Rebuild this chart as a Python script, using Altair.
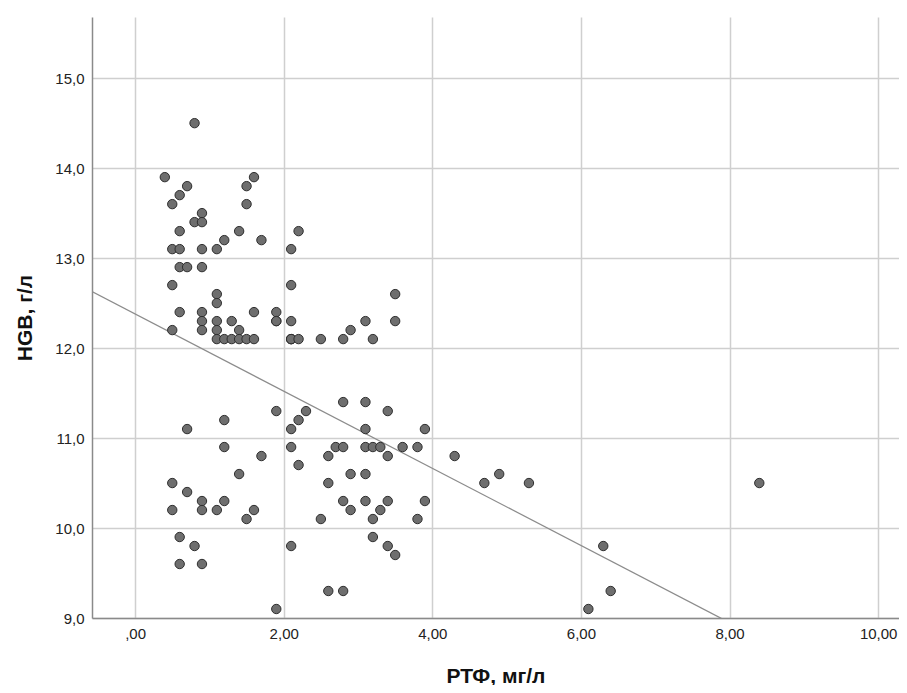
import altair as alt
import pandas as pd

# RTF (mg/l) and HGB (g/l) values
rtf = [
    0.8, 0.4, 0.7, 0.6, 0.5, 1.6, 1.5, 1.5, 0.9, 0.8, 0.9, 0.6, 1.4, 1.2, 1.7,
    0.5, 0.6, 0.9, 1.1, 2.1, 0.6, 0.7, 0.9, 0.5, 2.1, 1.1, 1.1, 0.6, 0.9, 1.6,
    1.9, 0.9, 1.1, 1.3, 1.9, 2.1, 0.5, 0.9, 1.1, 1.4, 1.1, 1.2, 1.3, 1.4, 1.5,
    1.6, 2.1,
    1.9, 1.2, 0.7, 2.1, 1.2, 2.1, 1.7, 1.4, 0.5, 0.7, 0.9, 1.2, 0.5, 0.9, 1.1,
    1.6, 1.5, 0.6, 0.8, 0.6, 0.9, 2.1, 1.9,
    2.2, 2.1, 1.9, 2.1, 2.2, 2.5, 2.8, 2.9, 3.1, 3.2, 3.5, 3.5,
    2.3, 2.2, 2.8, 3.1, 3.4, 3.1, 3.9, 2.7, 2.8, 3.1, 3.2, 3.3, 3.6, 3.8, 2.6,
    3.4, 4.3, 2.2, 2.9, 3.1, 2.6, 2.8, 3.1, 3.4, 3.9, 2.9, 3.3, 2.5, 3.2, 3.8,
    3.2, 3.4, 3.5, 2.6, 2.8,
    4.7, 4.9, 5.3, 6.3, 6.4, 6.1, 8.4,
]
hgb = [
    14.5, 13.9, 13.8, 13.7, 13.6, 13.9, 13.8, 13.6, 13.5, 13.4, 13.4, 13.3, 13.3, 13.2, 13.2,
    13.1, 13.1, 13.1, 13.1, 13.1, 12.9, 12.9, 12.9, 12.7, 12.7, 12.6, 12.5, 12.4, 12.4, 12.4,
    12.4, 12.3, 12.3, 12.3, 12.3, 12.3, 12.2, 12.2, 12.2, 12.2, 12.1, 12.1, 12.1, 12.1, 12.1,
    12.1, 12.1,
    11.3, 11.2, 11.1, 11.1, 10.9, 10.9, 10.8, 10.6, 10.5, 10.4, 10.3, 10.3, 10.2, 10.2, 10.2,
    10.2, 10.1, 9.9, 9.8, 9.6, 9.6, 9.8, 9.1,
    13.3, 12.1, 12.3, 12.1, 12.1, 12.1, 12.1, 12.2, 12.3, 12.1, 12.6, 12.3,
    11.3, 11.2, 11.4, 11.4, 11.3, 11.1, 11.1, 10.9, 10.9, 10.9, 10.9, 10.9, 10.9, 10.9, 10.8,
    10.8, 10.8, 10.7, 10.6, 10.6, 10.5, 10.3, 10.3, 10.3, 10.3, 10.2, 10.2, 10.1, 10.1, 10.1,
    9.9, 9.8, 9.7, 9.3, 9.3,
    10.5, 10.6, 10.5, 9.8, 9.3, 9.1, 10.5,
]

# Fit line (linear, as drawn on the chart)
fit_intercept = 12.38
fit_slope = -0.429

x_ticks = [0, 2, 4, 6, 8, 10]
y_ticks = [9, 10, 11, 12, 13, 14, 15]
x_domain = [-0.58, 10.28]
y_domain = [9.0, 15.68]

df = pd.DataFrame({"rtf": rtf, "hgb": hgb})
fit_df = pd.DataFrame({"rtf": x_domain})

x_scale = alt.Scale(domain=x_domain, nice=False, zero=False)
y_scale = alt.Scale(domain=y_domain, nice=False, zero=False)

x_enc = alt.X(
    "rtf:Q",
    title="РТФ, мг/л",
    scale=x_scale,
    axis=alt.Axis(
        values=x_ticks,
        labelExpr="datum.value == 0 ? ',00' : replace(format(datum.value, '.2f'), '.', ',')",
        titleY=64,
        titleBaseline="alphabetic",
    ),
)
y_enc = alt.Y(
    "hgb:Q",
    title="HGB, г/л",
    scale=y_scale,
    axis=alt.Axis(
        values=y_ticks,
        labelExpr="replace(format(datum.value, '.1f'), '.', ',')",
        titleX=-61,
        titleBaseline="alphabetic",
    ),
)

points = alt.Chart(df).mark_circle(
    size=88, color="#6e6e6e", opacity=1, stroke="#2e2e2e", strokeWidth=1
).encode(x=x_enc, y=y_enc)

fit = alt.Chart(fit_df).transform_calculate(
    hgb=f"{fit_intercept} + ({fit_slope}) * datum.rtf"
).mark_line(color="#8c8c8c", strokeWidth=1.3, clip=True).encode(
    x=alt.X("rtf:Q", scale=x_scale), y=alt.Y("hgb:Q", scale=y_scale)
)

chart = alt.layer(fit, points).properties(
    width=807,
    height=601,
    padding={"left": 84, "top": 9, "right": 0, "bottom": 67},
    autosize=alt.AutoSizeParams(type="none"),
).configure_view(stroke=None).configure_axis(
    grid=True,
    gridColor="#cfcfcf",
    gridWidth=1.5,
    domainColor="#8a8a8a",
    domainWidth=1.5,
    ticks=False,
    labelFont="Liberation Sans",
    labelFontSize=15,
    labelColor="#222222",
    labelPadding=8,
    titleFont="Liberation Sans",
    titleFontSize=21,
    titleFontWeight="bold",
    titleColor="#111111",
).configure_axisX(
    labelPadding=8
)

chart.save("out.html", embed_options={"renderer": "svg", "actions": False})
